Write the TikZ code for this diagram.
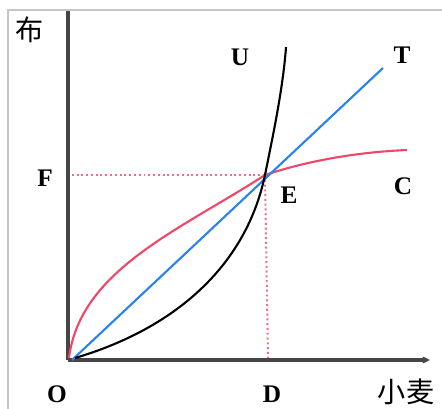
\documentclass[tikz,border=0pt]{standalone}
\usepackage{fontspec}
\setmainfont{Liberation Serif}
\newfontfamily\cjk{Noto Sans CJK SC}
\usepackage{tikz}
\usetikzlibrary{arrows.meta}
\definecolor{curvered}{RGB}{240,70,105}
\definecolor{lineblue}{RGB}{40,130,240}
\definecolor{axisgray}{RGB}{70,70,70}

\begin{document}
\begin{tikzpicture}[
  x=0.025cm, y=-0.025cm,
  every node/.style={font=\fontsize{18}{20}\selectfont\bfseries},
  axis/.style={axisgray, line width=2.2pt},
  curve/.style={line width=1.5pt},
  guide/.style={curvered!80, dotted, line width=1.4pt}
]
\useasboundingbox (0,0) rectangle (442,409);
% frame
\draw[gray!45, line width=0.8pt] (8,409) -- (8,10) -- (442,10);

% axes
\coordinate (O) at (68,360);
\coordinate (ytop) at (68,11);
\coordinate (xend) at (430,360);
\coordinate (E) at (265,175);
\coordinate (Fy) at (70,175);
\coordinate (Dx) at (268,358);
\draw[axis] (O) -- (ytop);
\draw[axis, -{Triangle[length=5pt,width=4.5pt]}] (O) -- (xend);

% dotted guides through E
\draw[guide] (E) -- (Fy);
\draw[guide] (E) -- (Dx);

% curves
\coordinate (cstart) at (69,358);
\coordinate (cend) at (407,150);
\coordinate (tstart) at (72,360);
\coordinate (tend) at (383,68);
\coordinate (ustart) at (75,358);
\coordinate (uend) at (286,47);
\draw[curve, curvered] (cstart) .. controls (80,270) and (180,230) .. (E)
  .. controls (310,160) and (360,152) .. (cend);
\draw[curve, lineblue] (tstart) -- (tend);
\draw[curve, black] (ustart) .. controls (170,330) and (245,270) .. (E)
  .. controls (271,145) and (283,90) .. (uend);

% labels
\node[font=\fontsize{20}{22}\selectfont\cjk] (bu) at (30,30) {布};
\node[font=\fontsize{20}{22}\selectfont\cjk] (xiaomai) at (406,392) {小麦};
\node (o) at (57,394) {O};
\node (d) at (272,394) {D};
\node (f) at (45,178) {F};
\node (e) at (289,195) {E};
\node (c) at (403,186) {C};
\node (t) at (402,55) {T};
\node (u) at (240,57) {U};
\end{tikzpicture}
\end{document}
